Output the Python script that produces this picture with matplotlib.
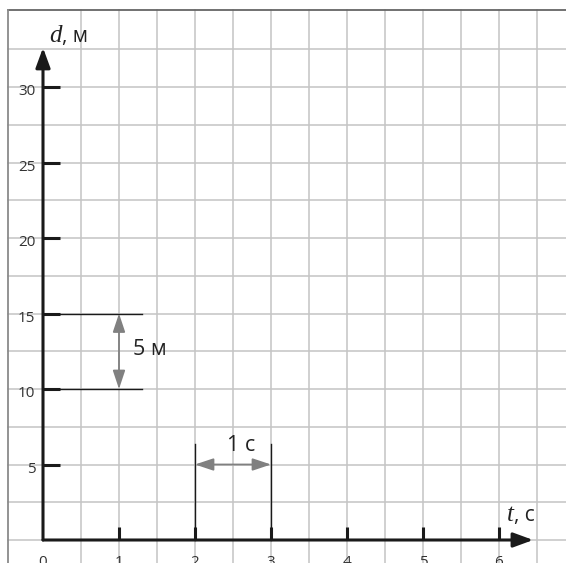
import matplotlib
matplotlib.use("Agg")
import matplotlib.pyplot as plt
import numpy as np

# Data
x_ticks = [1, 2, 3, 4, 5, 6]
x_tick_labels = ["0", "1", "2", "3", "4", "5", "6"]
y_ticks = [5, 10, 15, 20, 25, 30]
y_tick_labels = ["5", "10", "15", "20", "25", "30"]
x_grid = np.arange(0.5, 7.0, 0.5)
y_grid = np.arange(2.5, 35.0, 2.5)
d_marks = [10, 15]          # the two horizontal guide lines (5 м)
t_marks = [2, 3]            # the two vertical guide lines (1 с)

W, H = 566, 563
fig = plt.figure(figsize=(W / 100, H / 100), dpi=100)
ax = fig.add_axes([0, 0, 1, 1])
ax.set_xlim(-43 / 76, (W - 43) / 76)
ax.set_ylim(-(563 - 540) / 15.1, 540 / 15.1)
ax.axis("off")

top_y = (540 - 10) / 15.1
left_x = (8 - 43) / 76
grid_c = "#c4c4c4"

# grid
for gx in x_grid:
    ax.plot([gx, gx], [-5, top_y], color=grid_c, lw=1.1, zorder=1)
for gy in [0] + list(y_grid):
    ax.plot([left_x, 8], [gy, gy], color=grid_c, lw=1.1, zorder=1)
# border
ax.plot([left_x, 8], [top_y, top_y], color="#666666", lw=1.3, zorder=2)
ax.plot([left_x, left_x], [-5, top_y], color="#8a8a8a", lw=1.3, zorder=2)

axis_c = "#1a1a1a"
# axes with arrows
ax.annotate("", xy=(0, 32.6), xytext=(0, 0),
            arrowprops=dict(arrowstyle="-|>,head_length=0.6,head_width=0.22",
                            lw=2.2, color=axis_c, mutation_scale=20,
                            shrinkA=0, shrinkB=0), zorder=5)
ax.annotate("", xy=(6.45, 0), xytext=(0, 0),
            arrowprops=dict(arrowstyle="-|>,head_length=0.6,head_width=0.22",
                            lw=2.2, color=axis_c, mutation_scale=20,
                            shrinkA=0, shrinkB=0), zorder=5)

# y ticks
for yv, lab in zip(y_ticks, y_tick_labels):
    ax.plot([0, 0.22], [yv, yv], color=axis_c, lw=2.2, solid_capstyle="butt", zorder=5)
    ax.text(-0.1, yv - 0.3, lab, ha="right", va="center", fontsize=11,
            color="#333333", family="Open Sans")
# x ticks
for xv in x_ticks:
    ax.plot([xv, xv], [0, 0.86], color=axis_c, lw=2.2, solid_capstyle="butt", zorder=5)
for xv, lab in zip([0] + x_ticks, x_tick_labels):
    ax.text(xv, -1.52 + 0.05, lab, ha="center", va="center", fontsize=11,
            color="#333333", family="Open Sans")

# guide lines
for dv in d_marks:
    ax.plot([0, 1.3], [dv, dv], color=axis_c, lw=1.0, zorder=4)
for tv in t_marks:
    ax.plot([tv, tv], [0, 6.35], color=axis_c, lw=1.0, zorder=4)

gray = "#808080"
ax.annotate("", xy=(1, d_marks[1]), xytext=(1, d_marks[0]),
            arrowprops=dict(arrowstyle="<|-|>,head_length=0.75,head_width=0.25",
                            lw=1.3, color=gray, mutation_scale=15,
                            shrinkA=0, shrinkB=0), zorder=6)
ax.annotate("", xy=(t_marks[1], 5), xytext=(t_marks[0], 5),
            arrowprops=dict(arrowstyle="<|-|>,head_length=0.75,head_width=0.25",
                            lw=1.3, color=gray, mutation_scale=15,
                            shrinkA=0, shrinkB=0), zorder=6)

ax.text(1.18, 12.6, "5 м", ha="left", va="center", fontsize=15.5,
        color="#222222", family="Open Sans")
ax.text(2.61, 6.25, "1 с", ha="center", va="center", fontsize=15.5,
        color="#222222", family="Open Sans")

# axis labels
ax.text(0.08, 33.35, "d", ha="left", va="center", fontsize=18, style="italic",
        color="#222222", family="Liberation Serif")
ax.text(0.25, 33.35, ", м", ha="left", va="center", fontsize=15,
        color="#222222", family="Open Sans")
ax.text(6.1, 1.65, "t", ha="left", va="center", fontsize=18, style="italic",
        color="#222222", family="Liberation Serif")
ax.text(6.2, 1.65, ", с", ha="left", va="center", fontsize=15,
        color="#222222", family="Open Sans")

fig.savefig("out.png", dpi=100)
